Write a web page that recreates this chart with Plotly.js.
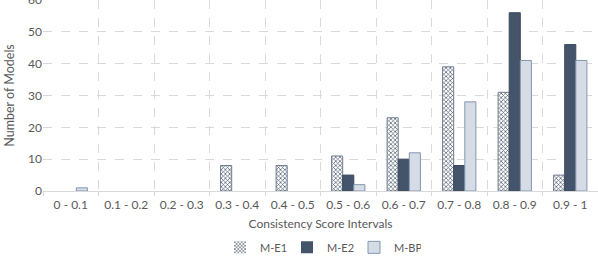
<!DOCTYPE html>
<html>
<head>
<meta charset="utf-8">
<script src="https://cdn.plot.ly/plotly-3.0.1.min.js"></script>
<style>html,body{margin:0;padding:0;background:#fff;}#chart{width:598px;height:267px;}</style>
</head>
<body>
<div id="chart"></div>
<script>
const categories = ["0 - 0.1","0.1 - 0.2","0.2 - 0.3","0.3 - 0.4","0.4 - 0.5","0.5 - 0.6","0.6 - 0.7","0.7 - 0.8","0.8 - 0.9","0.9 - 1"];
const mE1 = [0, 0, 0, 8, 8, 11, 23, 39, 31, 5];
const mE2 = [0, 0, 0, 0, 0, 5, 10, 8, 56, 46];
const mBP = [1, 0, 0, 0, 0, 2, 12, 28, 41, 41];
const yTicks = [0, 10, 20, 30, 40, 50, 60];

const fam = "Lato, 'Open Sans', sans-serif";
const lw = arr => arr.map(v => v ? 1 : 0);

const traces = [
  {type: "bar", name: "M-E1", x: categories, y: mE1,
   marker: {color: "#ffffff", line: {color: "#6f7c8e", width: lw(mE1)},
            pattern: {shape: "x", fgcolor: "#44546a", bgcolor: "#ffffff", size: 3, solidity: 0.4}}},
  {type: "bar", name: "M-E2", x: categories, y: mE2,
   marker: {color: "#44546a", line: {color: "#3b4a5e", width: lw(mE2)}}},
  {type: "bar", name: "M-BP", x: categories, y: mBP,
   marker: {color: "#d6dce5", line: {color: "#8497b0", width: lw(mBP)}}}
];

const layout = {
  width: 598, height: 267,
  margin: {l: 43, r: 0, t: 0, b: 76},
  paper_bgcolor: "#ffffff", plot_bgcolor: "#ffffff",
  font: {family: fam, color: "#595959", size: 11},
  barmode: "group",
  bargap: 0.4, bargroupgap: 0,
  showlegend: true,
  legend: {orientation: "h", x: 0.5, xanchor: "center", y: -0.295, yanchor: "middle",
           font: {family: fam, size: 11, color: "#595959"}, itemwidth: 30,
           entrywidth: 22, entrywidthmode: "pixels", traceorder: "normal"},
  xaxis: {
    type: "category", tickson: "boundaries",
    showgrid: true, gridcolor: "#d9d9d9", griddash: "dash", gridwidth: 1,
    showline: true, linecolor: "#d9d9d9", linewidth: 1,
    ticks: "outside", ticklen: 4, tickcolor: "#d9d9d9", tickwidth: 1,
    ticklabelstandoff: 3,
    tickfont: {size: 12, color: "#595959"},
    title: {text: "Consistency Score Intervals", font: {size: 12, color: "#595959"}, standoff: 8},
    automargin: false
  },
  yaxis: {
    range: [0, 60], tickvals: yTicks, ticklabeloverflow: "allow",
    showgrid: true, gridcolor: "#d9d9d9", griddash: "dash", gridwidth: 1,
    zeroline: false, showline: false, ticks: "",
    tickfont: {size: 12, color: "#595959"},
    title: {text: "Number of Models", font: {size: 12.5, color: "#595959"}, standoff: 10},
    automargin: false
  }
};

Plotly.newPlot("chart", traces, layout, {displayModeBar: false, staticPlot: true});
</script>
</body>
</html>
